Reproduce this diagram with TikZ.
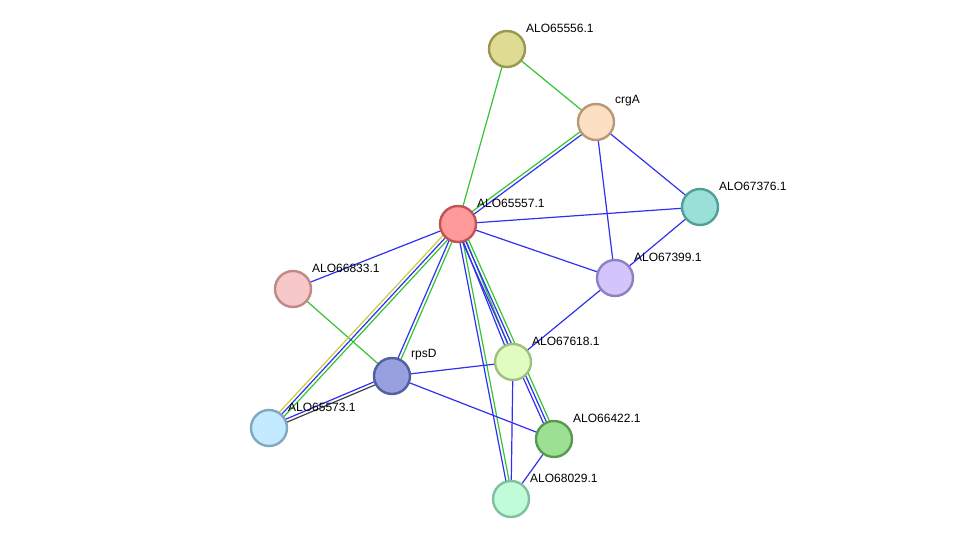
\documentclass[tikz,border=0pt]{standalone}
\usepackage{fontspec}
\setmainfont{Liberation Sans}
\usetikzlibrary{calc}
\pgfdeclarelayer{bg}
\pgfsetlayers{bg,main}
\definecolor{eblue}{HTML}{3030F0}
\definecolor{egreen}{HTML}{33C433}
\definecolor{eyellow}{HTML}{C8CC40}
\definecolor{egray}{HTML}{404040}
\definecolor{f1}{HTML}{FF9A9A}\definecolor{s1}{HTML}{C05454}
\definecolor{f2}{HTML}{DEDC92}\definecolor{s2}{HTML}{9A9850}
\definecolor{f3}{HTML}{FDDFC4}\definecolor{s3}{HTML}{B89878}
\definecolor{f4}{HTML}{9ADFD8}\definecolor{s4}{HTML}{50A098}
\definecolor{f5}{HTML}{D4C4FC}\definecolor{s5}{HTML}{9080C0}
\definecolor{f6}{HTML}{F7C8C8}\definecolor{s6}{HTML}{C08888}
\definecolor{f7}{HTML}{98A0E0}\definecolor{s7}{HTML}{5060A0}
\definecolor{f8}{HTML}{E0FCC0}\definecolor{s8}{HTML}{A0C080}
\definecolor{f9}{HTML}{C4EAFF}\definecolor{s9}{HTML}{80A8C0}
\definecolor{f10}{HTML}{9CE094}\definecolor{s10}{HTML}{5A9A50}
\definecolor{f11}{HTML}{C0FCD8}\definecolor{s11}{HTML}{80C0A0}
\tikzset{
  prot/.style={circle, minimum size=36pt, inner sep=0pt, line width=2.4pt},
  lbl/.style={anchor=west, inner sep=0pt, font=\fontsize{12}{14}\selectfont},
  edge/.style={line width=1.2pt},
}
\newcommand\eline[4]{\draw[edge,#1] ($(#3)!#2!90:(#4)$) -- ($(#4)!#2!-90:(#3)$);}
\begin{document}
\begin{tikzpicture}[x=1pt,y=-1pt]
\useasboundingbox (0,0) rectangle (975,545);
% nodes
\node[prot, draw=s1, fill=f1] (n57) at (458,224) {};
\node[prot, draw=s2, fill=f2] (n56) at (507,49) {};
\node[prot, draw=s3, fill=f3] (crg) at (596,122) {};
\node[prot, draw=s4, fill=f4] (n376) at (700,207) {};
\node[prot, draw=s5, fill=f5] (n399) at (615,278) {};
\node[prot, draw=s6, fill=f6] (n833) at (293,289) {};
\node[prot, draw=s7, fill=f7] (rps) at (392,376) {};
\node[prot, draw=s8, fill=f8] (n618) at (513,362) {};
\node[prot, draw=s9, fill=f9] (n573) at (269,428) {};
\node[prot, draw=s10, fill=f10] (n422) at (554,439) {};
\node[prot, draw=s11, fill=f11] (n029) at (511,499) {};
% labels
\node[lbl] (l57) at ($(n57)+(19,-21)$) {ALO65557.1};
\node[lbl] (l56) at ($(n56)+(19,-21)$) {ALO65556.1};
\node[lbl] (lcrg) at ($(crg)+(19,-21)$) {crgA};
\node[lbl] (l376) at ($(n376)+(19,-21)$) {ALO67376.1};
\node[lbl] (l399) at ($(n399)+(19,-21)$) {ALO67399.1};
\node[lbl] (l833) at ($(n833)+(19,-21)$) {ALO66833.1};
\node[lbl] (lrps) at ($(rps)+(19,-21)$) {rpsD};
\node[lbl] (l618) at ($(n618)+(19,-21)$) {ALO67618.1};
\node[lbl] (l573) at ($(n573)+(19,-21)$) {ALO65573.1};
\node[lbl] (l422) at ($(n422)+(19,-21)$) {ALO66422.1};
\node[lbl] (l029) at ($(n029)+(19,-21)$) {ALO68029.1};
% edges
\begin{pgfonlayer}{bg}
\eline{egreen}{0pt}{n56}{crg}
\eline{egreen}{0pt}{n56}{n57}
\eline{egreen}{1.6pt}{n57}{crg}
\eline{eblue}{-1.6pt}{n57}{crg}
\eline{eblue}{0pt}{crg}{n376}
\eline{eblue}{0pt}{crg}{n399}
\eline{eblue}{0pt}{n376}{n399}
\eline{eblue}{0pt}{n57}{n376}
\eline{eblue}{0pt}{n57}{n399}
\eline{eblue}{0pt}{n57}{n833}
\eline{egreen}{0pt}{n833}{rps}
\eline{eblue}{0pt}{n399}{n618}
\eline{eyellow}{-3.2pt}{n57}{n573}
\eline{eblue}{0pt}{n57}{n573}
\eline{egreen}{3.2pt}{n57}{n573}
\eline{eblue}{-1.6pt}{n57}{rps}
\eline{egreen}{1.6pt}{n57}{rps}
\eline{eblue}{-1.6pt}{n57}{n029}
\eline{egreen}{1.6pt}{n57}{n029}
\eline{eblue}{-1.6pt}{n57}{n618}
\eline{egreen}{1.6pt}{n57}{n618}
\eline{eblue}{-3.2pt}{n57}{n422}
\eline{eblue}{0pt}{n57}{n422}
\eline{egreen}{3.2pt}{n57}{n422}
\eline{eblue}{-1.6pt}{rps}{n573}
\eline{egray}{1.6pt}{rps}{n573}
\eline{eblue}{0pt}{rps}{n618}
\eline{eblue}{0pt}{rps}{n422}
\eline{eblue}{0pt}{n618}{n029}
\eline{eblue}{0pt}{n422}{n029}
\end{pgfonlayer}
\end{tikzpicture}
\end{document}
